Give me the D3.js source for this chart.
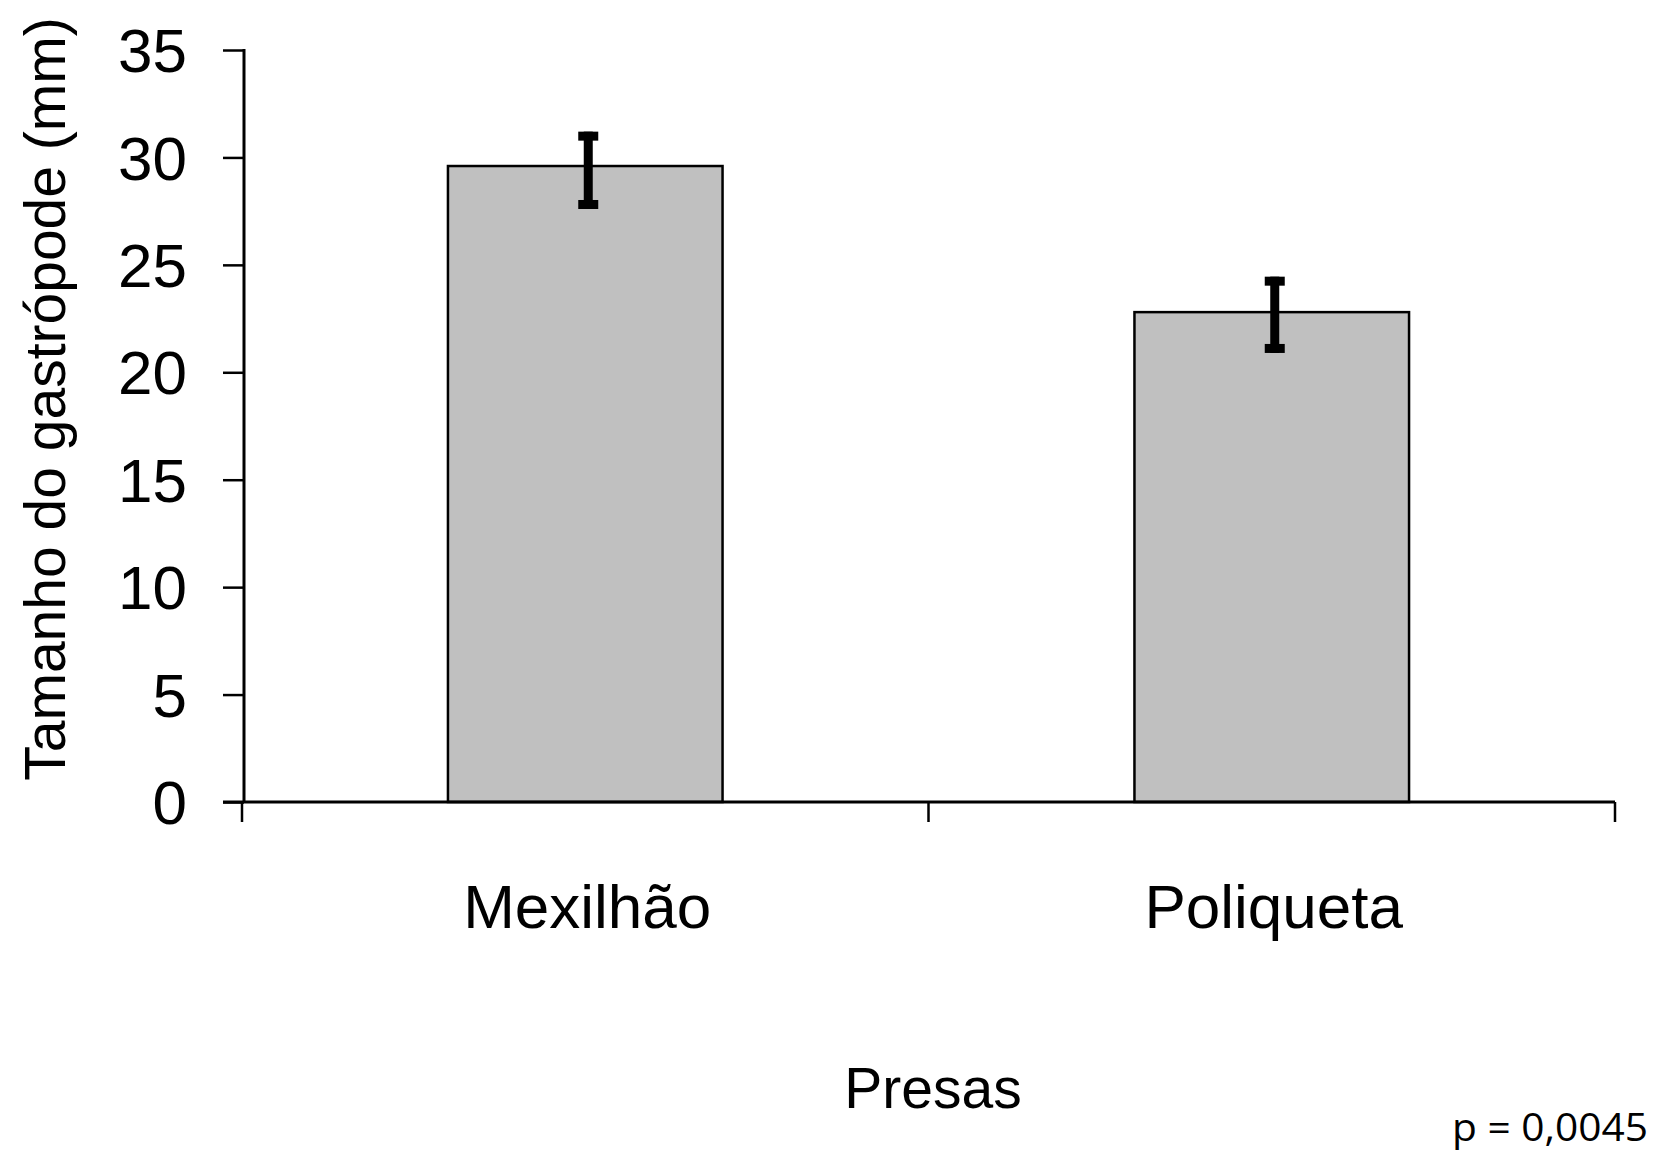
<!DOCTYPE html>
<html>
<head>
<meta charset="utf-8">
<script src="https://cdn.jsdelivr.net/npm/d3@7"></script>
<style>
  html, body { margin: 0; padding: 0; background: #fff; }
  svg { display: block; }
</style>
</head>
<body>
<svg id="chart" width="1659" height="1153"></svg>
<script>
const categories = ["Mexilhão", "Poliqueta"];
const means = [29.6, 22.8];
const errUpper = [31.2, 24.45];
const errLower = [27.6, 20.9];
const yTicks = [0, 5, 10, 15, 20, 25, 30, 35];
const yTitle = "Tamanho do gastrópode (mm)";
const xTitle = "Presas";
const pText = "p = 0,0045";

const svg = d3.select("#chart");
const font = "'Liberation Sans', Arial, sans-serif";

const y = d3.scaleLinear().domain([0, 35]).range([802, 50]);
const x = d3.scaleBand().domain(categories).range([242, 1615]).paddingInner(0.6).paddingOuter(0.3);

// y axis
const yAxis = svg.append("g").attr("transform", "translate(244,0)")
  .call(d3.axisLeft(y).tickValues(yTicks).tickSize(21).tickPadding(36).tickSizeOuter(0));
yAxis.select(".domain").remove();
yAxis.selectAll(".tick line").attr("stroke", "#000").attr("stroke-width", 2.5);
yAxis.selectAll(".tick text").attr("font-family", font).attr("font-size", 62).attr("fill", "#000").attr("dy", "0.35em");
svg.append("line").attr("x1", 244).attr("x2", 244).attr("y1", y(35) - 1).attr("y2", y(0))
  .attr("stroke", "#000").attr("stroke-width", 3);

// bars
const bw = x.bandwidth();
svg.selectAll("rect.bar").data(categories).enter().append("rect")
  .attr("class", "bar")
  .attr("x", d => x(d))
  .attr("y", (d, i) => y(means[i]))
  .attr("width", bw)
  .attr("height", (d, i) => y(0) - y(means[i]))
  .attr("fill", "#c0c0c0")
  .attr("stroke", "#000")
  .attr("stroke-width", 2.5);

// x axis line and boundary ticks
svg.append("line").attr("x1", 223).attr("x2", 1615).attr("y1", y(0)).attr("y2", y(0))
  .attr("stroke", "#000").attr("stroke-width", 3);
const step = x.step();
const bounds = d3.range(categories.length + 1).map(i => x.range()[0] + i * step);
svg.selectAll("line.xtick").data(bounds).enter().append("line")
  .attr("class", "xtick")
  .attr("x1", d => d).attr("x2", d => d)
  .attr("y1", y(0)).attr("y2", y(0) + 20)
  .attr("stroke", "#000").attr("stroke-width", 2.5);

// error bars
const eb = svg.append("g");
categories.forEach((c, i) => {
  const cx = x(c) + bw / 2 + 3;
  const top = y(errUpper[i]);
  const bot = y(errLower[i]);
  eb.append("rect").attr("x", cx - 4.5).attr("y", top).attr("width", 9).attr("height", bot - top).attr("fill", "#000");
  eb.append("rect").attr("x", cx - 10).attr("y", top).attr("width", 20).attr("height", 9).attr("fill", "#000");
  eb.append("rect").attr("x", cx - 10).attr("y", bot - 9).attr("width", 20).attr("height", 9).attr("fill", "#000");
});

// category labels
svg.selectAll("text.cat").data(categories).enter().append("text")
  .attr("class", "cat")
  .attr("x", d => x(d) + bw / 2 + 2)
  .attr("y", 928)
  .attr("text-anchor", "middle")
  .attr("font-family", font).attr("font-size", 62).attr("fill", "#000")
  .text(d => d);

// axis titles
svg.append("text")
  .attr("transform", "translate(65,399) rotate(-90)")
  .attr("text-anchor", "middle")
  .attr("font-family", font).attr("font-size", 57).attr("fill", "#000")
  .text(yTitle);

svg.append("text")
  .attr("x", 933).attr("y", 1108)
  .attr("text-anchor", "middle")
  .attr("font-family", font).attr("font-size", 57).attr("fill", "#000")
  .text(xTitle);

svg.append("text")
  .attr("x", 1452).attr("y", 1141)
  .attr("textLength", 196).attr("lengthAdjust", "spacingAndGlyphs")
  .attr("font-family", "'Open Sans', 'Noto Sans', sans-serif").attr("font-size", 38).attr("fill", "#000")
  .text(pText);
</script>
</body>
</html>
